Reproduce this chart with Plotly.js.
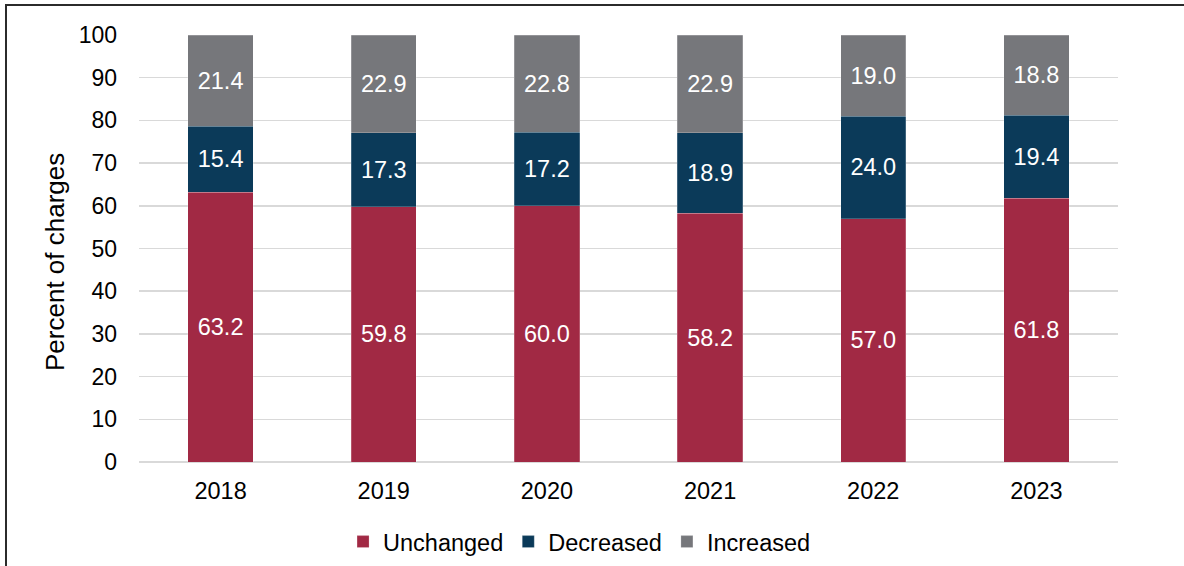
<!DOCTYPE html>
<html>
<head>
<meta charset="utf-8">
<script src="https://cdn.plot.ly/plotly-3.0.1.min.js"></script>
<style>
html,body{margin:0;padding:0;background:#fff;}
#wrap{position:relative;width:1184px;height:566px;overflow:hidden;}
#chart{width:1184px;height:566px;}
#frame{position:absolute;left:5px;top:4px;width:1200px;height:600px;border-left:2.5px solid #2b2b2b;border-top:2.5px solid #2b2b2b;pointer-events:none;}
</style>
</head>
<body>
<div id="wrap"><div id="chart"></div><div id="frame"></div></div>
<script>
const years = ['2018','2019','2020','2021','2022','2023'];
const unchanged = [63.2, 59.8, 60.0, 58.2, 57.0, 61.8];
const decreased = [15.4, 17.3, 17.2, 18.9, 24.0, 19.4];
const increased = [21.4, 22.9, 22.8, 22.9, 19.0, 18.8];
const seriesNames = ['Unchanged','Decreased','Increased'];
const seriesColors = ['#A12944','#0B3A59','#76777B'];
const yTicks = [0,10,20,30,40,50,60,70,80,90,100];
const yTitle = 'Percent of charges';

const FONT = 'Liberation Sans, Arial, sans-serif';
const seriesData = [unchanged, decreased, increased];
const traces = seriesData.map((vals, i) => ({
  type: 'bar',
  name: seriesNames[i],
  x: years,
  y: vals,
  marker: {color: seriesColors[i], line: {color: 'rgba(255,255,255,0.35)', width: 0.6}},
  texttemplate: '%{y:.1f}',
  textposition: 'inside',
  insidetextanchor: 'middle',
  textangle: 0,
  constraintext: 'none',
  textfont: {family: FONT, size: 23.5, color: '#ffffff'},
  hoverinfo: 'x+y+name'
}));

const layout = {
  width: 1184, height: 566,
  margin: {l: 139, r: 66, t: 35, b: 104, pad: 0, autoexpand: false},
  paper_bgcolor: '#ffffff', plot_bgcolor: '#ffffff',
  barmode: 'stack',
  bargap: 0.6,
  font: {family: FONT, color: '#000000', size: 23},
  xaxis: {
    type: 'category',
    tickfont: {size: 23.5, color: '#000'},
    showgrid: false, zeroline: false, showline: false,
    ticks: '', ticklabelstandoff: 12, automargin: false
  },
  yaxis: {
    range: [0, 100],
    tickvals: yTicks,
    tickfont: {size: 23, color: '#000'},
    showgrid: true, gridcolor: '#D9D9D9', gridwidth: 1.5,
    zeroline: true, zerolinecolor: '#D9D9D9', zerolinewidth: 2,
    showline: false, ticks: '', ticklabelstandoff: 21, automargin: false
  },
  annotations: [{
    text: yTitle, textangle: -90, showarrow: false,
    xref: 'paper', yref: 'paper', x: -0.086, y: 0.468,
    xanchor: 'center', yanchor: 'middle',
    font: {family: FONT, size: 26, color: '#000'}
  }],
  legend: {
    orientation: 'h', x: 0.45, xanchor: 'center', y: -0.187, yanchor: 'middle',
    traceorder: 'normal',
    font: {size: 23.5, color: '#000'},
    itemwidth: 30
  },
  showlegend: true
};

Plotly.newPlot('chart', traces, layout, {displayModeBar: false, staticPlot: true});
</script>
</body>
</html>
